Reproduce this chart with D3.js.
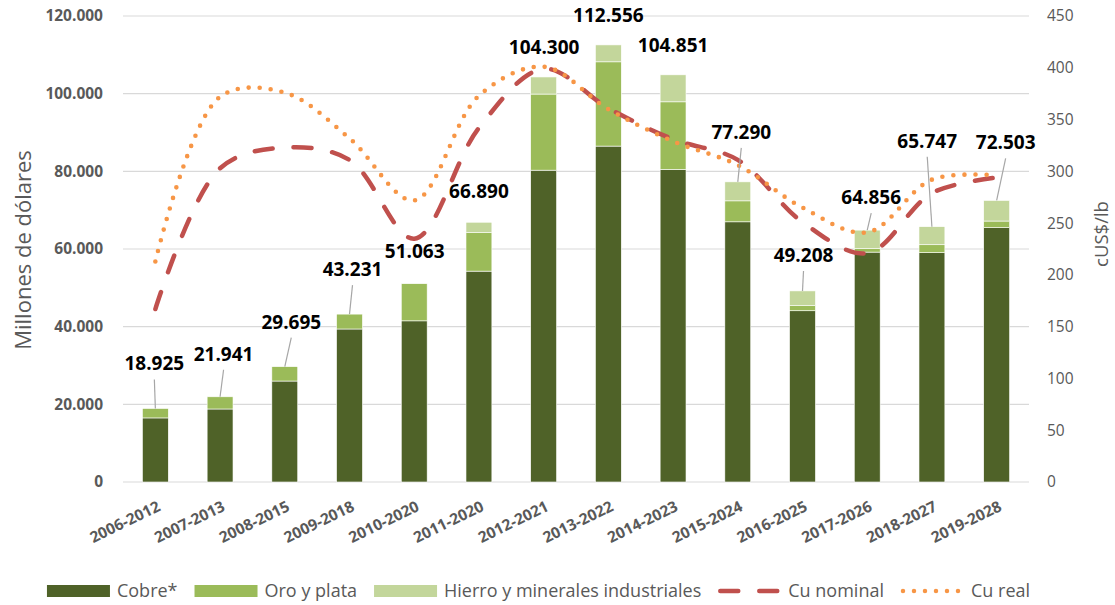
<!DOCTYPE html>
<html>
<head>
<meta charset="utf-8">
<script src="https://cdn.jsdelivr.net/npm/d3@7"></script>
<style>
  body { margin: 0; background: #fff; }
  svg { font-family: "Open Sans", sans-serif; }
</style>
</head>
<body>
<div id="chart"></div>
<script>
// periods (x axis)
const periods = ["2006-2012", "2007-2013", "2008-2015", "2009-2018", "2010-2020", "2011-2020", "2012-2021",
                 "2013-2022", "2014-2023", "2015-2024", "2016-2025", "2017-2026", "2018-2027", "2019-2028"];
// millones de dólares, stacked
const cobre  = [16500, 18800, 26000, 39400, 41500, 54300, 80300, 86500, 80500, 67000, 44100, 59200, 59050, 65500];
const oro    = [2425, 3141, 3695, 3831, 9563, 9900, 19600, 21700, 17400, 5400, 1300, 900, 2050, 1700];
const hierro = [0, 0, 0, 0, 0, 2690, 4400, 4356, 6951, 4890, 3808, 4756, 4647, 5303];
const totals = [18925, 21941, 29695, 43231, 51063, 66890, 104300, 112556, 104851, 77290, 49208, 64856, 65747, 72503];
// cUS$/lb
const cuNominal = [167, 303, 323, 311, 235, 342, 399, 361, 331, 311, 251, 221, 279, 294];
const cuReal    = [213, 372, 376, 332, 272, 373, 401, 360, 329, 306, 265, 241, 292, 296];

const leftTicks = [0, 20000, 40000, 60000, 80000, 100000, 120000];
const rightTicks = [0, 50, 100, 150, 200, 250, 300, 350, 400, 450];

// label placement (moved by hand in the original), offsets from bar top
const labelDx = [-1, 3.5, 6.5, 3, 0.5, 0, 0.5, 0, 0, 3.5, 1, 4, -4.7, 9];
const labelDy = [-45, -43, -45, -45, -33, -31, -30, -30, -30, -50, -36, -33, -86, -58];
const hasLeader = [true, true, true, true, false, false, false, false, false, true, true, true, true, true];

const colors = { cobre: "#4F6228", oro: "#9BBB59", hierro: "#C3D69B", nominal: "#C0504D", real: "#F79646" };
const grey = "#595959";

const width = 1115, height = 605,
      plot = { left: 123, right: 1029, top: 16, bottom: 482 };

const svg = d3.select("#chart").append("svg")
    .attr("width", width).attr("height", height);

const x = d3.scaleBand().domain(periods)
    .range([plot.left, plot.right])
    .paddingInner(0.6).paddingOuter(0.3);
const y = d3.scaleLinear().domain([0, 120000]).range([plot.bottom, plot.top]);
const y2 = d3.scaleLinear().domain([0, 450]).range([plot.bottom, plot.top]);
const fmt = d3.formatLocale({ decimal: ",", thousands: ".", grouping: [3], currency: ["$", ""] }).format(",d");
const cx = d => x(d) + x.bandwidth() / 2;

// gridlines
svg.append("g").selectAll("line").data(leftTicks).join("line")
    .attr("x1", plot.left).attr("x2", plot.right)
    .attr("y1", d => y(d)).attr("y2", d => y(d))
    .attr("stroke", "#D9D9D9").attr("stroke-width", 1.2);

// left axis
const yAxis = svg.append("g").attr("transform", `translate(${plot.left},0)`)
    .call(d3.axisLeft(y).tickValues(leftTicks).tickFormat(fmt).tickSize(0).tickPadding(20));
yAxis.select(".domain").remove();
yAxis.selectAll("text").attr("font-size", 15.5).attr("font-weight", "bold")
    .attr("fill", grey).attr("font-family", "Open Sans");

// right axis
const y2Axis = svg.append("g").attr("transform", `translate(${plot.right},0)`)
    .call(d3.axisRight(y2).tickValues(rightTicks).tickSize(0).tickPadding(18));
y2Axis.select(".domain").remove();
y2Axis.selectAll("text").attr("font-size", 15.5).attr("fill", grey).attr("font-family", "Open Sans");

// x labels
const xAxis = svg.append("g").attr("transform", `translate(0,${plot.bottom})`)
    .call(d3.axisBottom(x).tickSize(0).tickPadding(0));
xAxis.select(".domain").remove();
xAxis.selectAll("text")
    .attr("font-size", 15.5).attr("font-weight", "bold").attr("fill", grey)
    .attr("font-family", "Open Sans")
    .attr("text-anchor", "end")
    .attr("y", 0).attr("dy", 0)
    .attr("transform", "translate(6,28) rotate(-26)");

// axis titles
svg.append("text")
    .attr("transform", `translate(31,250) rotate(-90)`)
    .attr("text-anchor", "middle")
    .attr("font-size", 22).attr("fill", grey)
    .text("Millones de dólares");
svg.append("text")
    .attr("transform", `translate(1108,234) rotate(-90)`)
    .attr("text-anchor", "middle")
    .attr("font-size", 18.5).attr("fill", grey)
    .text("cUS$/lb");

// stacked bars
const rows = periods.map((p, i) => ({ period: p, cobre: cobre[i], oro: oro[i], hierro: hierro[i] }));
const keys = ["cobre", "oro", "hierro"];
const stacked = d3.stack().keys(keys)(rows);

svg.append("g").selectAll("g").data(stacked).join("g")
    .attr("fill", s => colors[s.key])
  .selectAll("rect").data(s => s).join("rect")
    .attr("x", d => x(d.data.period))
    .attr("width", x.bandwidth())
    .attr("y", d => y(d[1]))
    .attr("height", d => y(d[0]) - y(d[1]))
    .attr("stroke", "#fff").attr("stroke-width", 0.6);

// lines (smoothed like Excel)
const line = d3.line()
    .x((d, i) => cx(periods[i]))
    .y(d => y2(d))
    .curve(d3.curveCatmullRom.alpha(0.5));

svg.append("path").datum(cuNominal)
    .attr("d", line)
    .attr("fill", "none")
    .attr("stroke", colors.nominal)
    .attr("stroke-width", 4.5)
    .attr("stroke-linecap", "round")
    .attr("stroke-dasharray", "18 21");

svg.append("path").datum(cuReal)
    .attr("d", line)
    .attr("fill", "none")
    .attr("stroke", colors.real)
    .attr("stroke-width", 4.6)
    .attr("stroke-linecap", "round")
    .attr("stroke-dasharray", "0 11");

// total labels + leader lines
const labels = totals.map((t, i) => ({
    value: t,
    bx: cx(periods[i]),
    by: y(t),
    lx: cx(periods[i]) + labelDx[i],
    ly: y(t) + labelDy[i],
    leader: hasLeader[i]
}));

svg.append("g").selectAll("line").data(labels.filter(d => d.leader)).join("line")
    .attr("x1", d => d.lx).attr("y1", d => d.ly + 16)
    .attr("x2", d => d.bx).attr("y2", d => d.by)
    .attr("stroke", "#A6A6A6").attr("stroke-width", 1.2);

svg.append("g").selectAll("text").data(labels).join("text")
    .attr("x", d => d.lx).attr("y", d => d.ly)
    .attr("dy", "0.36em")
    .attr("text-anchor", "middle")
    .attr("font-size", 19).attr("font-weight", "bold").attr("fill", "#000")
    .text(d => fmt(d.value));

// legend
const legendItems = [
    { name: "Cobre*", type: "rect", color: colors.cobre },
    { name: "Oro y plata", type: "rect", color: colors.oro },
    { name: "Hierro y minerales industriales", type: "rect", color: colors.hierro },
    { name: "Cu nominal", type: "dash", color: colors.nominal },
    { name: "Cu real", type: "dot", color: colors.real }
];
const legend = svg.append("g");
const ly = 591;
let lx = 0;
legendItems.forEach(item => {
    const g = legend.append("g").attr("transform", `translate(${lx},0)`);
    if (item.type === "rect") {
        g.append("rect").attr("x", 0).attr("y", ly - 6).attr("width", 63).attr("height", 12).attr("fill", item.color);
    } else {
        g.append("line").attr("x1", 2).attr("x2", 60)
            .attr("y1", ly).attr("y2", ly)
            .attr("stroke", item.color).attr("stroke-width", 4.5).attr("stroke-linecap", "round")
            .attr("stroke-dasharray", item.type === "dash" ? "18 21" : "0 11");
    }
    const t = g.append("text").attr("x", 70).attr("y", ly).attr("dy", "0.35em")
        .attr("font-size", 18).attr("fill", grey).text(item.name);
    lx += 70 + t.node().getComputedTextLength() + 17;
});
const legendWidth = lx - 17;
legend.attr("transform", `translate(${538.5 - legendWidth / 2},0)`);
</script>
</body>
</html>
